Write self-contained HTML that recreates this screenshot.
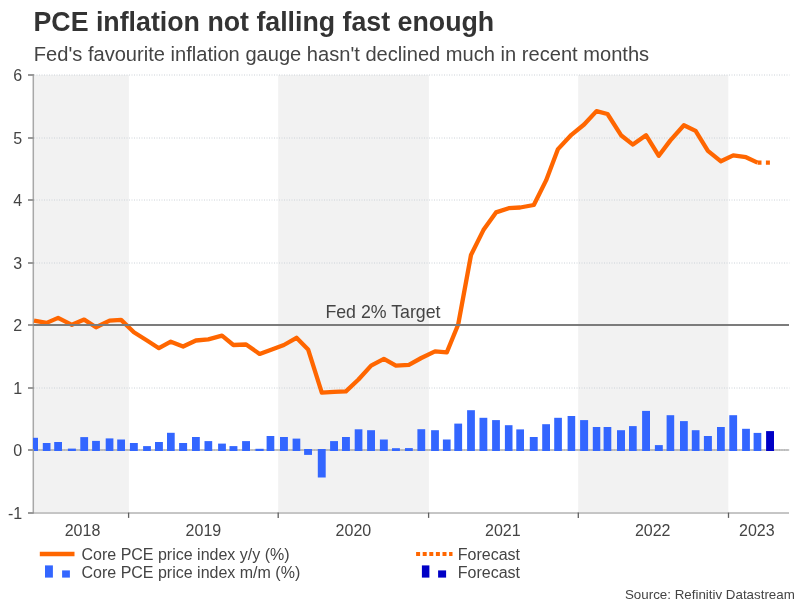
<!DOCTYPE html>
<html><head><meta charset="utf-8"><title>PCE inflation</title>
<style>
html,body{margin:0;padding:0;background:#fff;}
body{width:805px;height:604px;overflow:hidden;font-family:"Liberation Sans",sans-serif;}
svg{display:block;}
text{font-family:"Liberation Sans",sans-serif;fill:#444;}
</style></head><body>
<svg width="805" height="604" viewBox="0 0 805 604" style="will-change:transform">
<rect x="0" y="0" width="805" height="604" fill="#ffffff"/>
<rect x="33.8" y="75" width="95.1" height="437" fill="#f2f2f2"/>
<rect x="278.2" y="75" width="150.7" height="437" fill="#f2f2f2"/>
<rect x="578.2" y="75" width="150.1" height="437" fill="#f2f2f2"/>
<line x1="34.0" y1="450" x2="789.5" y2="450" stroke="#ccd2d8" stroke-width="1" stroke-dasharray="1 1.5"/>
<line x1="34.0" y1="388" x2="789.5" y2="388" stroke="#ccd2d8" stroke-width="1" stroke-dasharray="1 1.5"/>
<line x1="34.0" y1="263" x2="789.5" y2="263" stroke="#ccd2d8" stroke-width="1" stroke-dasharray="1 1.5"/>
<line x1="34.0" y1="200" x2="789.5" y2="200" stroke="#ccd2d8" stroke-width="1" stroke-dasharray="1 1.5"/>
<line x1="34.0" y1="138" x2="789.5" y2="138" stroke="#ccd2d8" stroke-width="1" stroke-dasharray="1 1.5"/>
<line x1="34.0" y1="75" x2="789.5" y2="75" stroke="#ccd2d8" stroke-width="1" stroke-dasharray="1 1.5"/>
<line x1="33.5" y1="450" x2="789" y2="450" stroke="#8c8c8c" stroke-width="1"/>
<line x1="33.3" y1="74" x2="33.3" y2="513" stroke="#a8a8a8" stroke-width="1.5"/>
<rect x="33" y="437.8" width="5.0" height="13.2" fill="#3366ff"/>
<rect x="42.8" y="443.0" width="7.7" height="8.0" fill="#3366ff"/>
<rect x="54.2" y="442.0" width="7.8" height="9.0" fill="#3366ff"/>
<rect x="67.9" y="448.6" width="8.0" height="2.4" fill="#3366ff"/>
<rect x="80.3" y="437.1" width="7.8" height="13.9" fill="#3366ff"/>
<rect x="92.1" y="440.9" width="7.8" height="10.1" fill="#3366ff"/>
<rect x="105.7" y="438.4" width="7.7" height="12.6" fill="#3366ff"/>
<rect x="117.2" y="439.5" width="7.8" height="11.5" fill="#3366ff"/>
<rect x="129.9" y="443.0" width="7.9" height="8.0" fill="#3366ff"/>
<rect x="143.1" y="446.1" width="7.8" height="4.9" fill="#3366ff"/>
<rect x="155.0" y="442.0" width="7.9" height="9.0" fill="#3366ff"/>
<rect x="167.0" y="432.8" width="7.7" height="18.2" fill="#3366ff"/>
<rect x="179.1" y="443.0" width="8.0" height="8.0" fill="#3366ff"/>
<rect x="192.0" y="437.0" width="7.8" height="14.0" fill="#3366ff"/>
<rect x="204.5" y="441.1" width="7.7" height="9.9" fill="#3366ff"/>
<rect x="218.1" y="443.6" width="7.8" height="7.4" fill="#3366ff"/>
<rect x="229.5" y="446.1" width="7.9" height="4.9" fill="#3366ff"/>
<rect x="242.1" y="441.1" width="7.9" height="9.9" fill="#3366ff"/>
<rect x="255.4" y="448.8" width="8.3" height="2.2" fill="#3366ff"/>
<rect x="266.6" y="436.0" width="7.7" height="15.0" fill="#3366ff"/>
<rect x="280" y="437.0" width="7.9" height="14.0" fill="#3366ff"/>
<rect x="292.6" y="438.6" width="7.7" height="12.4" fill="#3366ff"/>
<rect x="304.1" y="449.0" width="7.9" height="5.9" fill="#3366ff"/>
<rect x="317.8" y="449.0" width="7.9" height="28.5" fill="#3366ff"/>
<rect x="330.1" y="441.1" width="7.9" height="9.9" fill="#3366ff"/>
<rect x="342" y="437.0" width="7.9" height="14.0" fill="#3366ff"/>
<rect x="354.7" y="429.3" width="7.7" height="21.7" fill="#3366ff"/>
<rect x="367.1" y="430.2" width="7.9" height="20.8" fill="#3366ff"/>
<rect x="379.9" y="439.5" width="7.9" height="11.5" fill="#3366ff"/>
<rect x="392" y="448.2" width="7.9" height="2.8" fill="#3366ff"/>
<rect x="405" y="448.1" width="7.8" height="2.9" fill="#3366ff"/>
<rect x="417.4" y="429.2" width="7.8" height="21.8" fill="#3366ff"/>
<rect x="431.1" y="430.2" width="7.8" height="20.8" fill="#3366ff"/>
<rect x="442.9" y="439.5" width="7.7" height="11.5" fill="#3366ff"/>
<rect x="454.3" y="423.6" width="7.8" height="27.4" fill="#3366ff"/>
<rect x="467.1" y="410.2" width="7.8" height="40.8" fill="#3366ff"/>
<rect x="479.5" y="417.8" width="7.8" height="33.2" fill="#3366ff"/>
<rect x="492.1" y="420.1" width="7.8" height="30.9" fill="#3366ff"/>
<rect x="504.9" y="425.2" width="7.6" height="25.8" fill="#3366ff"/>
<rect x="516.3" y="429.4" width="7.7" height="21.6" fill="#3366ff"/>
<rect x="529.8" y="437.0" width="7.9" height="14.0" fill="#3366ff"/>
<rect x="542.2" y="424.2" width="7.8" height="26.8" fill="#3366ff"/>
<rect x="554.2" y="417.8" width="7.7" height="33.2" fill="#3366ff"/>
<rect x="567.6" y="416.0" width="7.6" height="35.0" fill="#3366ff"/>
<rect x="580.1" y="420.1" width="8.0" height="30.9" fill="#3366ff"/>
<rect x="592.8" y="427.0" width="7.5" height="24.0" fill="#3366ff"/>
<rect x="603.6" y="427.0" width="7.7" height="24.0" fill="#3366ff"/>
<rect x="617" y="430.2" width="8.0" height="20.8" fill="#3366ff"/>
<rect x="629" y="426.1" width="7.7" height="24.9" fill="#3366ff"/>
<rect x="642.1" y="410.9" width="7.9" height="40.1" fill="#3366ff"/>
<rect x="654.9" y="445.1" width="7.9" height="5.9" fill="#3366ff"/>
<rect x="666.6" y="415.2" width="7.6" height="35.8" fill="#3366ff"/>
<rect x="680" y="421.1" width="7.8" height="29.9" fill="#3366ff"/>
<rect x="691.8" y="430.2" width="7.7" height="20.8" fill="#3366ff"/>
<rect x="703.9" y="436.0" width="8.0" height="15.0" fill="#3366ff"/>
<rect x="717" y="427.0" width="7.8" height="24.0" fill="#3366ff"/>
<rect x="729.3" y="415.2" width="7.8" height="35.8" fill="#3366ff"/>
<rect x="742.1" y="428.8" width="7.8" height="22.2" fill="#3366ff"/>
<rect x="753.6" y="432.9" width="7.7" height="18.1" fill="#3366ff"/>
<rect x="766.1" y="431.1" width="7.9" height="19.9" fill="#0000c6"/>
<line x1="28" y1="513" x2="33.8" y2="513" stroke="#999999" stroke-width="2"/>
<text x="22.2" y="518.7" font-size="16" text-anchor="end">-1</text>
<line x1="28" y1="450" x2="33.8" y2="450" stroke="#999999" stroke-width="2"/>
<text x="22.2" y="455.7" font-size="16" text-anchor="end">0</text>
<line x1="28" y1="388" x2="33.8" y2="388" stroke="#999999" stroke-width="2"/>
<text x="22.2" y="393.7" font-size="16" text-anchor="end">1</text>
<line x1="28" y1="325" x2="33.8" y2="325" stroke="#999999" stroke-width="2"/>
<text x="22.2" y="330.7" font-size="16" text-anchor="end">2</text>
<line x1="28" y1="263" x2="33.8" y2="263" stroke="#999999" stroke-width="2"/>
<text x="22.2" y="268.7" font-size="16" text-anchor="end">3</text>
<line x1="28" y1="200" x2="33.8" y2="200" stroke="#999999" stroke-width="2"/>
<text x="22.2" y="205.7" font-size="16" text-anchor="end">4</text>
<line x1="28" y1="138" x2="33.8" y2="138" stroke="#999999" stroke-width="2"/>
<text x="22.2" y="143.7" font-size="16" text-anchor="end">5</text>
<line x1="28" y1="75" x2="33.8" y2="75" stroke="#999999" stroke-width="2"/>
<text x="22.2" y="80.7" font-size="16" text-anchor="end">6</text>
<line x1="33.5" y1="513" x2="789" y2="513" stroke="#8c8c8c" stroke-width="1"/>
<line x1="128.6" y1="512.6" x2="128.6" y2="517.9" stroke="#606060" stroke-width="1.3"/>
<line x1="278.2" y1="512.6" x2="278.2" y2="517.9" stroke="#606060" stroke-width="1.3"/>
<line x1="428.6" y1="512.6" x2="428.6" y2="517.9" stroke="#606060" stroke-width="1.3"/>
<line x1="578.3" y1="512.6" x2="578.3" y2="517.9" stroke="#606060" stroke-width="1.3"/>
<line x1="728.5" y1="512.6" x2="728.5" y2="517.9" stroke="#606060" stroke-width="1.3"/>
<text x="82.5" y="536" font-size="16" text-anchor="middle">2018</text>
<text x="203.4" y="536" font-size="16" text-anchor="middle">2019</text>
<text x="353.4" y="536" font-size="16" text-anchor="middle">2020</text>
<text x="502.8" y="536" font-size="16" text-anchor="middle">2021</text>
<text x="652.7" y="536" font-size="16" text-anchor="middle">2022</text>
<text x="756.8" y="536" font-size="16" text-anchor="middle">2023</text>
<text x="325.4" y="317.7" font-size="17.75">Fed 2% Target</text>
<polyline points="34.0,320.6 46.6,322.9 58.1,317.9 71.9,324.8 84.2,319.6 96.0,327.3 109.6,320.6 121.1,319.9 133.9,332.3 147.0,340.5 158.9,348.2 170.8,341.7 183.1,346.5 195.9,340.5 208.3,339.3 222.0,335.7 233.4,345.0 246.1,344.5 259.6,353.9 270.5,349.9 283.9,345.0 296.5,337.8 308.1,349.4 321.8,392.7 334.1,391.9 345.9,391.4 358.5,379.5 371.1,365.6 383.9,358.9 395.9,365.6 408.9,364.8 421.3,358.0 435.0,351.4 446.8,352.4 458.2,324.5 471.0,255.0 483.4,230.1 496.0,212.4 508.7,208.2 520.1,207.5 533.8,205.0 546.1,180.4 558.0,149.1 571.4,134.8 584.1,124.5 596.5,111.1 607.5,114.0 621.0,135.2 632.9,144.6 646.0,135.2 658.8,155.8 670.4,140.4 683.9,125.2 695.6,130.9 707.9,150.8 720.9,161.3 733.2,155.4 746.0,157.2 757.5,162.6" fill="none" stroke="#ff6600" stroke-width="4.3" stroke-linejoin="round" stroke-linecap="butt"/>
<line x1="757.5" y1="162.6" x2="770.0" y2="162.6" stroke="#ff6600" stroke-width="4.3" stroke-dasharray="4 4.4"/>
<line x1="33.5" y1="325" x2="789" y2="325" stroke="#7c7c7c" stroke-width="2"/>
<text x="33.5" y="30.7" font-size="26.76" font-weight="bold" style="fill:#333">PCE inflation not falling fast enough</text>
<text x="33.8" y="61.2" font-size="20.1">Fed's favourite inflation gauge hasn't declined much in recent months</text>
<line x1="39.8" y1="554" x2="74.5" y2="554" stroke="#ff6600" stroke-width="4.4"/>
<text x="81.5" y="559.7" font-size="16">Core PCE price index y/y (%)</text>
<rect x="45" y="565.4" width="7.9" height="12.2" fill="#3366ff"/><rect x="62.1" y="570.4" width="7.8" height="7.2" fill="#3366ff"/>
<text x="81.5" y="577.7" font-size="16">Core PCE price index m/m (%)</text>
<line x1="416.1" y1="554" x2="452.5" y2="554" stroke="#ff6600" stroke-width="4.2" stroke-dasharray="4 2.6"/>
<text x="457.8" y="559.7" font-size="16">Forecast</text>
<rect x="421.9" y="565.4" width="7.5" height="12.2" fill="#0000c6"/><rect x="438.1" y="570.4" width="8" height="7.2" fill="#0000c6"/>
<text x="457.8" y="577.7" font-size="16">Forecast</text>
<text x="794.8" y="598.9" font-size="13.35" text-anchor="end">Source: Refinitiv Datastream</text>
</svg></body></html>
